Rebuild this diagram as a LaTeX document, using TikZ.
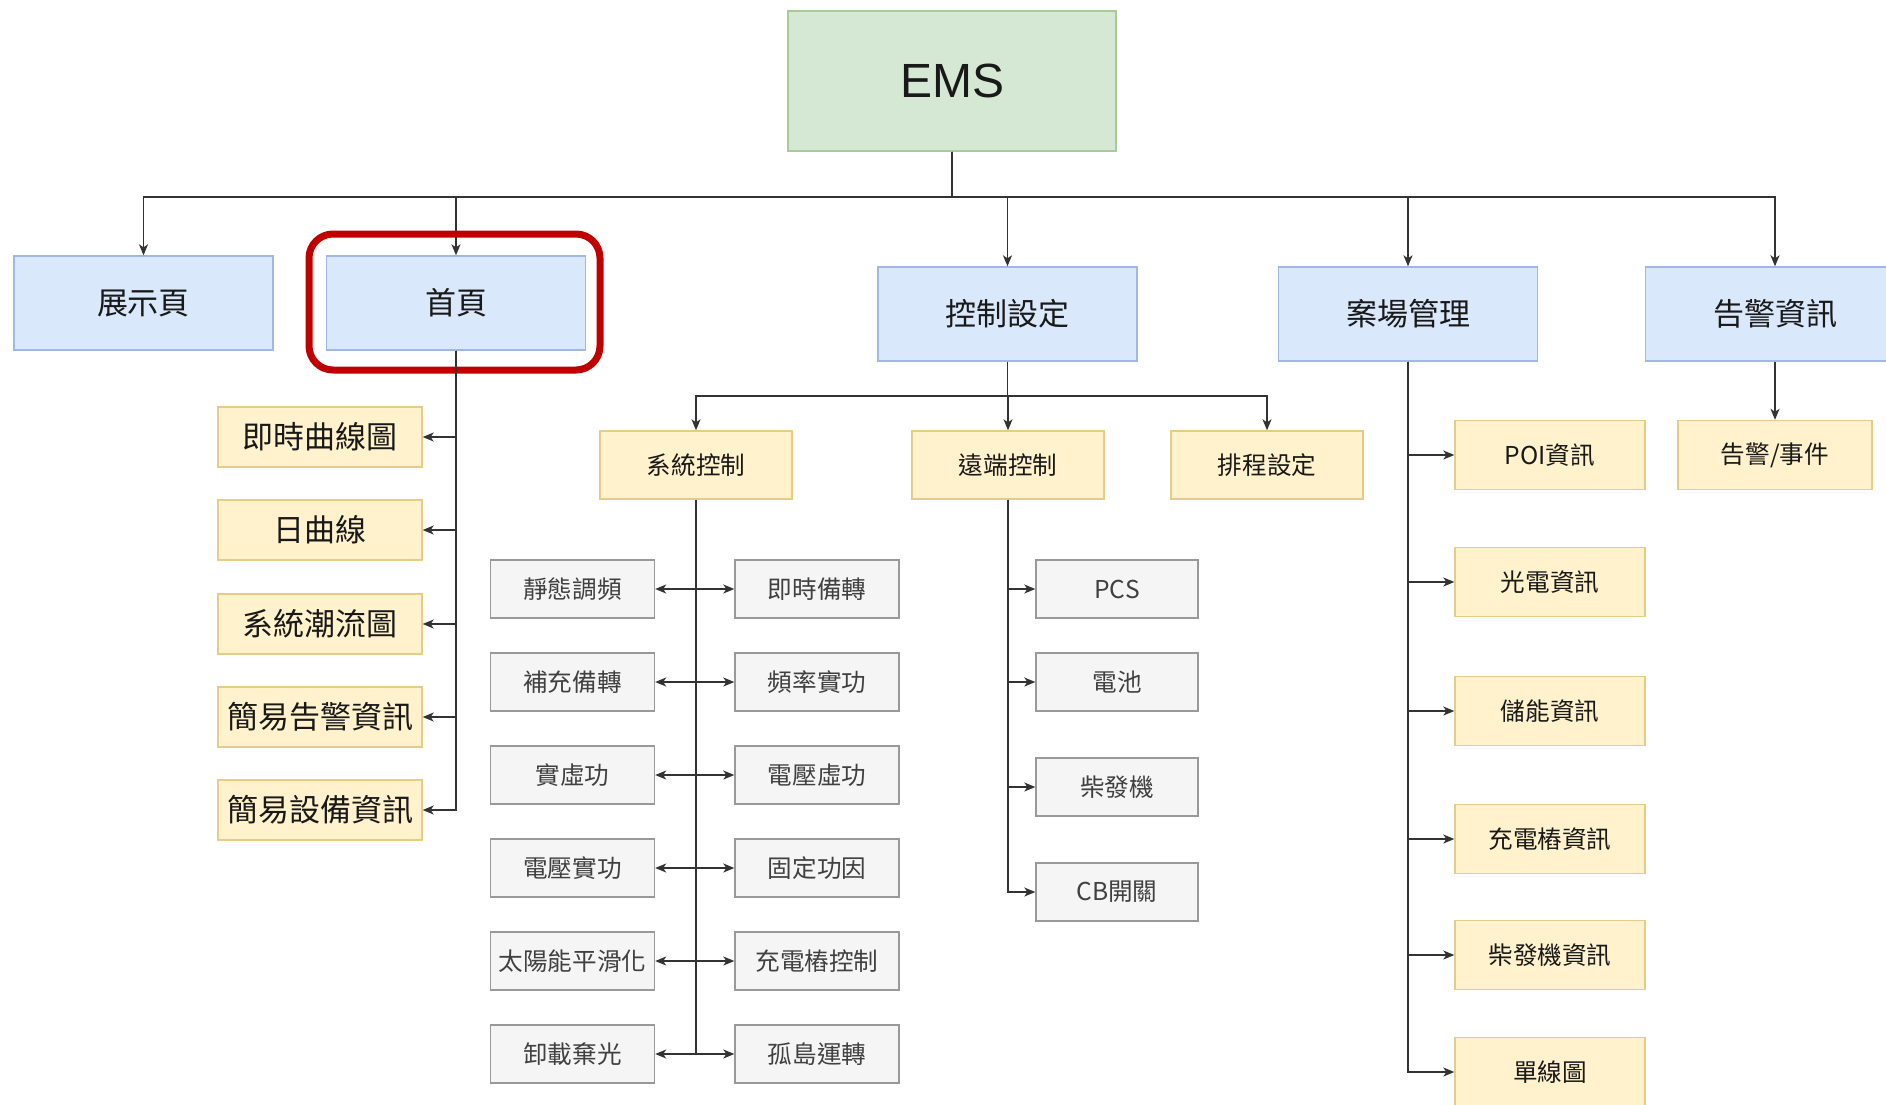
\documentclass[tikz,border=0pt]{standalone}
\usepackage{fontspec}
\setmainfont{Noto Sans CJK TC}
\newfontfamily\emsfont{Liberation Sans}
\usetikzlibrary{arrows.meta}
\definecolor{bluefill}{HTML}{DAE8FC}
\definecolor{bluedraw}{HTML}{9FB9E3}
\definecolor{yelfill}{HTML}{FFF2CC}
\definecolor{yeldraw}{HTML}{E6CC85}
\definecolor{grayfill}{HTML}{F5F5F5}
\definecolor{graydraw}{HTML}{999999}
\definecolor{grnfill}{HTML}{D5E8D4}
\definecolor{grndraw}{HTML}{A7CC97}
\definecolor{redline}{HTML}{C00000}
\definecolor{linecol}{HTML}{333333}
\tikzset{
  box/.style={rectangle, inner sep=0pt, line width=0.7pt, text=black!90},
  topbox/.style={box, fill=grnfill, draw=grndraw, minimum width=164pt, minimum height=70pt, font=\emsfont\fontsize{24pt}{28pt}\selectfont},
  lvone/.style={box, fill=bluefill, draw=bluedraw, minimum width=129.5pt, minimum height=47pt, font=\fontsize{15.5pt}{18pt}\selectfont},
  homekid/.style={box, fill=yelfill, draw=yeldraw, minimum width=102pt, minimum height=30pt, font=\fontsize{15.5pt}{18pt}\selectfont},
  lvtwo/.style={box, fill=yelfill, draw=yeldraw, minimum width=96pt, minimum height=34pt, font=\fontsize{12.3pt}{15pt}\selectfont},
  sitekid/.style={box, fill=yelfill, draw=yeldraw, minimum width=95pt, minimum height=34.5pt, font=\fontsize{12.3pt}{15pt}\selectfont},
  graybox/.style={box, fill=grayfill, draw=graydraw, minimum width=82pt, minimum height=29pt, text=black!75, font=\fontsize{12.3pt}{15pt}\selectfont},
  conn/.style={draw=linecol, line width=0.7pt},
  arr/.style={conn, -{Stealth[length=5.5pt, width=4.5pt, inset=1.5pt]}},
  dblarr/.style={conn, {Stealth[length=5.5pt, width=4.5pt, inset=1.5pt]}-{Stealth[length=5.5pt, width=4.5pt, inset=1.5pt]}}
}
\begin{document}
\begin{tikzpicture}[x=0.5pt, y=-0.5pt]
\useasboundingbox (0,0) rectangle (1886,1104);
\fill[white] (0,0) rectangle (1886,1104);
\clip (0,0) rectangle (1886,1104);

% top
\node[topbox] (ems) at (952,81) {EMS};

% level one
\node[lvone] (show)  at (143.5,303) {展示頁};
\node[lvone] (home)  at (456,303) {首頁};
\node[lvone] (ctrl)  at (1007.5,314) {控制設定};
\node[lvone] (site)  at (1408,314) {案場管理};
\node[lvone] (alarm) at (1775,314) {告警資訊};

\coordinate (bus) at (0,197);
\foreach \n in {show,home,ctrl,site,alarm}
  \draw[arr] (ems.south) -- (ems.south |- bus) -| (\n.north);

% highlight
\draw[redline, line width=3.5pt, rounded corners=12pt] (309,234) rectangle (600,370);

% home children
\node[homekid] (h1) at (320,437) {即時曲線圖};
\node[homekid] (h2) at (320,530) {日曲線};
\node[homekid] (h3) at (320,624) {系統潮流圖};
\node[homekid] (h4) at (320,717) {簡易告警資訊};
\node[homekid] (h5) at (320,810) {簡易設備資訊};
\foreach \n in {h1,h2,h3,h4,h5}
  \draw[arr] (home.south) |- (\n.east);

% control children
\node[lvtwo] (sys)   at (696,465)  {系統控制};
\node[lvtwo] (rem)   at (1008,465) {遠端控制};
\node[lvtwo] (sched) at (1267,465) {排程設定};
\coordinate (bustwo) at (0,396);
\foreach \n in {sys,rem,sched}
  \draw[arr] (ctrl.south) -- (ctrl.south |- bustwo) -| (\n.north);

% system control children
\node[graybox] (gl1) at (572.5,589)  {靜態調頻};
\node[graybox] (gr1) at (817,589)    {即時備轉};
\node[graybox] (gl2) at (572.5,682)  {補充備轉};
\node[graybox] (gr2) at (817,682)    {頻率實功};
\node[graybox] (gl3) at (572.5,775)  {實虛功};
\node[graybox] (gr3) at (817,775)    {電壓虛功};
\node[graybox] (gl4) at (572.5,868)  {電壓實功};
\node[graybox] (gr4) at (817,868)    {固定功因};
\node[graybox] (gl5) at (572.5,961)  {太陽能平滑化};
\node[graybox] (gr5) at (817,961)    {充電樁控制};
\node[graybox] (gl6) at (572.5,1054) {卸載棄光};
\node[graybox] (gr6) at (817,1054)   {孤島運轉};
\draw[conn] (sys.south) -- (sys.south |- gl6.east);
\foreach \i in {1,...,6}
  \draw[dblarr] (gl\i.east) -- (gr\i.west);

% remote control children
\node[graybox, minimum width=81pt] (r1) at (1117,589) {PCS};
\node[graybox, minimum width=81pt] (r2) at (1117,682) {電池};
\node[graybox, minimum width=81pt] (r3) at (1117,787) {柴發機};
\node[graybox, minimum width=81pt] (r4) at (1117,892) {CB開關};
\foreach \n in {r1,r2,r3,r4}
  \draw[arr] (rem.south) |- (\n.west);

% site children
\node[sitekid] (s1) at (1550,455)  {POI資訊};
\node[sitekid] (s2) at (1550,582)  {光電資訊};
\node[sitekid] (s3) at (1550,711)  {儲能資訊};
\node[sitekid] (s4) at (1550,839)  {充電樁資訊};
\node[sitekid] (s5) at (1550,955)  {柴發機資訊};
\node[sitekid] (s6) at (1550,1072) {單線圖};
\foreach \n in {s1,s2,s3,s4,s5,s6}
  \draw[arr] (site.south) |- (\n.west);

% alarm child
\node[sitekid, minimum width=97pt] (ak) at (1775,455) {告警/事件};
\draw[arr] (alarm.south) -- (ak.north);
\end{tikzpicture}
\end{document}
